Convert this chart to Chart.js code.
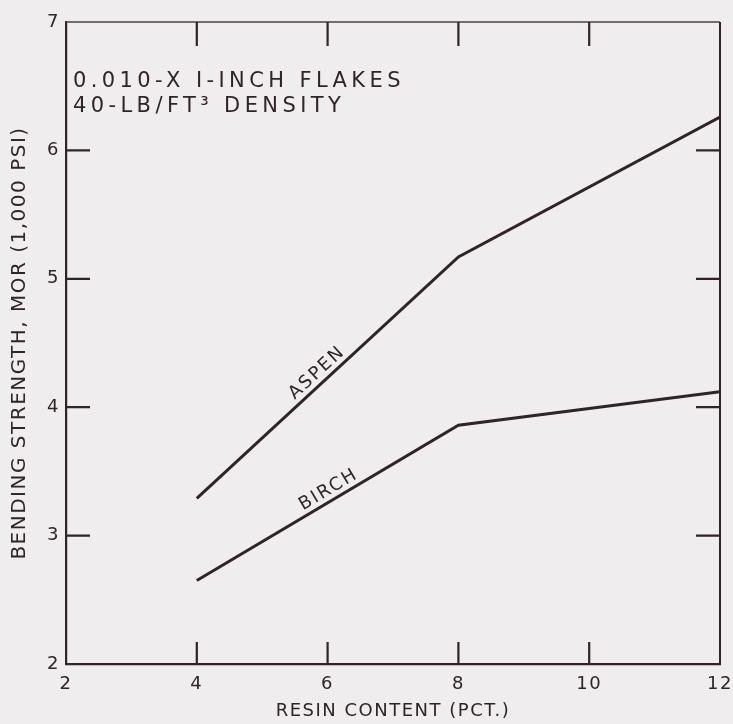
<!DOCTYPE html>
<html>
<head>
<meta charset="utf-8">
<script src="https://cdn.jsdelivr.net/npm/chart.js@4.4.1/dist/chart.umd.min.js"></script>
<style>
  html, body { margin: 0; padding: 0; background: #efedee; }
  #wrap { width: 733px; height: 724px; }
</style>
</head>
<body>
<div id="wrap"><canvas id="chart" width="733" height="724"></canvas></div>
<script>
// data
const resinContent = [4, 8, 12];
const aspen = [3.29, 5.17, 6.26];
const birch = [2.65, 3.86, 4.12];
const xTicks = [2, 4, 6, 8, 10, 12];
const yTicks = [2, 3, 4, 5, 6, 7];
const seriesNames = ["ASPEN", "BIRCH"];
const labelAt = [5.95, 6.1]; // x value where each curve label sits
const noteLines = ["0.010-X I-INCH FLAKES", "40-LB/FT\u00B3 DENSITY"];

const ink = "#2f2428";
const font = "'DejaVu Sans', sans-serif";

const toPoints = (ys) => resinContent.map((x, i) => ({ x: x, y: ys[i] }));

// inward tick marks, top/right frame, note and curve labels
const decor = {
  id: "decor",
  beforeDraw(chart) {
    chart.ctx.letterSpacing = "1.5px";
  },
  afterDatasetsDraw(chart) {
    const { ctx, chartArea: a, scales } = chart;
    const xs = scales.x, ys = scales.y;
    ctx.save();
    ctx.lineCap = "butt";

    // top frame (faint) and right frame
    ctx.lineWidth = 1.5;
    ctx.strokeStyle = "#4a4044";
    ctx.beginPath();
    ctx.moveTo(a.left, a.top);
    ctx.lineTo(a.right, a.top);
    ctx.stroke();
    ctx.strokeStyle = ink;
    ctx.lineWidth = 2;
    ctx.beginPath();
    ctx.moveTo(a.right, a.top);
    ctx.lineTo(a.right, a.bottom);
    ctx.stroke();

    const len = 24;
    ctx.lineWidth = 2.2;
    xTicks.slice(1, -1).forEach((v) => {
      const px = xs.getPixelForValue(v);
      ctx.beginPath();
      ctx.moveTo(px, a.bottom);
      ctx.lineTo(px, a.bottom - len + 2);
      ctx.moveTo(px, a.top);
      ctx.lineTo(px, a.top + len);
      ctx.stroke();
    });
    yTicks.slice(1, -1).forEach((v) => {
      const py = ys.getPixelForValue(v);
      ctx.beginPath();
      ctx.moveTo(a.left, py);
      ctx.lineTo(a.left + len, py);
      ctx.moveTo(a.right, py);
      ctx.lineTo(a.right - len, py);
      ctx.stroke();
    });

    // note in the upper left
    ctx.fillStyle = ink;
    ctx.font = "21px " + font;
    ctx.letterSpacing = "4.4px";
    ctx.textAlign = "left";
    ctx.textBaseline = "middle";
    noteLines.forEach((t, i) => {
      ctx.fillText(t, a.left + 7, a.top + 60 + i * 25);
    });

    // labels written along the first segment of each curve
    ctx.font = "18px " + font;
    ctx.letterSpacing = "2px";
    ctx.textAlign = "center";
    ctx.textBaseline = "alphabetic";
    chart.data.datasets.forEach((ds, i) => {
      const p0 = ds.data[0], p1 = ds.data[1];
      const x0 = xs.getPixelForValue(p0.x), y0 = ys.getPixelForValue(p0.y);
      const x1 = xs.getPixelForValue(p1.x), y1 = ys.getPixelForValue(p1.y);
      const t = (labelAt[i] - p0.x) / (p1.x - p0.x);
      const ang = Math.atan2(y1 - y0, x1 - x0);
      ctx.save();
      ctx.translate(x0 + (x1 - x0) * t, y0 + (y1 - y0) * t);
      ctx.rotate(ang);
      ctx.fillText(seriesNames[i], 0, -6);
      ctx.restore();
    });
    ctx.restore();
  },
};

new Chart(document.getElementById("chart"), {
  type: "line",
  data: {
    datasets: [
      {
        label: seriesNames[0],
        data: toPoints(aspen),
        borderColor: ink,
        borderWidth: 3,
        pointRadius: 0,
        tension: 0,
      },
      {
        label: seriesNames[1],
        data: toPoints(birch),
        borderColor: ink,
        borderWidth: 3,
        pointRadius: 0,
        tension: 0,
      },
    ],
  },
  options: {
    responsive: false,
    animation: false,
    layout: { padding: { top: 22, right: 13, left: 0, bottom: 0 } },
    plugins: {
      legend: { display: false },
      tooltip: { enabled: false },
    },
    scales: {
      x: {
        type: "linear",
        min: 2,
        max: 12,
        afterBuildTicks: (s) => {
          s.ticks = xTicks.map((v) => ({ value: v }));
        },
        afterFit: (s) => {
          s.height = 60;
          s.paddingLeft = 0;
          s.paddingRight = 0;
        },
        grid: { color: "rgba(0,0,0,0)", drawOnChartArea: false, drawTicks: false },
        border: { display: true, color: ink, width: 2.2 },
        ticks: { color: ink, font: { family: font, size: 18 }, padding: 10, maxRotation: 0 },
        title: {
          display: true,
          text: "RESIN CONTENT (PCT.)",
          color: ink,
          font: { family: font, size: 18 },
          padding: { top: 2, bottom: 2 },
        },
      },
      y: {
        type: "linear",
        min: 2,
        max: 7,
        afterBuildTicks: (s) => {
          s.ticks = yTicks.map((v) => ({ value: v }));
        },
        afterFit: (s) => {
          s.width = 66;
          s.paddingTop = 0;
          s.paddingBottom = 0;
        },
        grid: { color: "rgba(0,0,0,0)", drawOnChartArea: false, drawTicks: false },
        border: { display: true, color: ink, width: 2.2 },
        ticks: { color: ink, font: { family: font, size: 18 }, padding: 6 },
        title: {
          display: true,
          text: "BENDING STRENGTH, MOR (1,000 PSI)",
          color: ink,
          font: { family: font, size: 20 },
          padding: { top: 8, bottom: 0 },
        },
      },
    },
  },
  plugins: [decor],
});
</script>
</body>
</html>
